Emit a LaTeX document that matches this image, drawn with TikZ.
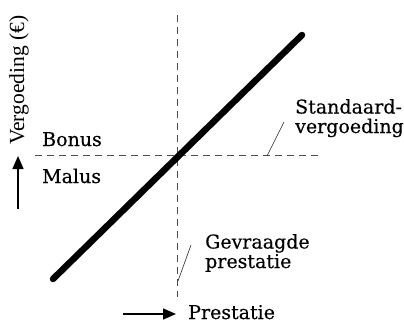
\documentclass[tikz,border=0pt]{standalone}
\usepackage{fontspec}
\setmainfont{DejaVu Serif}[FakeBold=0.3]
\newfontfamily\axisfont{Liberation Serif}
\usetikzlibrary{arrows.meta}
\begin{document}
\begin{tikzpicture}[x=1pt,y=1pt,
  lbl/.style={inner sep=0pt,anchor=base west,align=left,
    font=\fontsize{19}{19.5}\selectfont},
  guide/.style={draw=black!70,line width=0.8pt,dash pattern=on 7pt off 5pt},
  leader/.style={draw=black!85,line width=0.6pt},
  axisarrow/.style={draw,line width=1.5pt,-{Triangle[length=13pt,width=11pt]}},
  curve/.style={draw,line width=6.5pt,line cap=round}]
\useasboundingbox (0,0) rectangle (404,325);

% reference levels
\coordinate (vtop) at (177,310);
\coordinate (vbot) at (177,28);
\coordinate (hleft) at (35,169.5);
\coordinate (hright) at (318,169.5);
\path[guide] (vtop) -- (vbot);
\path[guide] (hleft) -- (hright);

% remuneration line
\coordinate (lo) at (53,46);
\coordinate (hi) at (302,290);
\path[curve] (lo) -- (hi);

% axis arrows and labels
\coordinate (ya) at (18,116);
\coordinate (yb) at (18,169);
\path[axisarrow] (ya) -- (yb);
\node[inner sep=0pt,rotate=90,anchor=base west,
  font=\axisfont\fontsize{21.5}{22}\selectfont] (ylab) at (24,180) {Vergoeding (€)};

\coordinate (xa) at (123,11);
\coordinate (xb) at (176,11);
\path[axisarrow] (xa) -- (xb);
\node[lbl] (xlab) at (188,6) {Prestatie};

% region labels
\node[lbl] (bonus) at (42,179) {Bonus};
\node[lbl] (malus) at (42,142) {Malus};

% annotations (anchored on the baseline of the last line)
\node[lbl] (std) at (295,192) {Standaard-\\vergoeding};
\coordinate (stdA) at (267,169);
\coordinate (stdB) at (284,203);
\path[leader] (stdA) -- (stdB);

\node[lbl] (gev) at (205,57) {Gevraagde\\prestatie};
\coordinate (gevA) at (178,44);
\coordinate (gevB) at (191,80);
\path[leader] (gevA) -- (gevB);
\end{tikzpicture}
\end{document}
